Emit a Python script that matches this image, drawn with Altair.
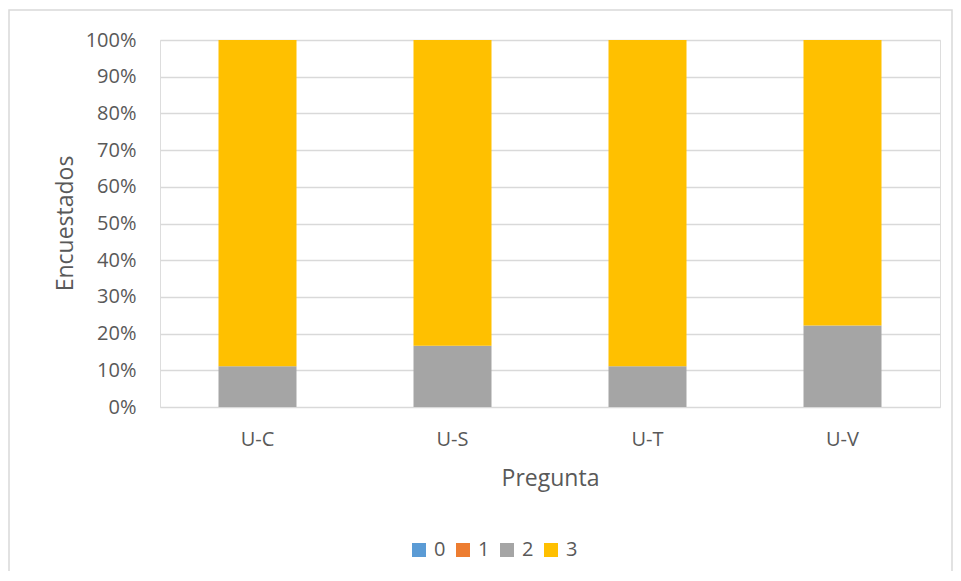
import altair as alt
import pandas as pd

categories = ["U-C", "U-S", "U-T", "U-V"]
series_names = ["0", "1", "2", "3"]
s0 = [0, 0, 0, 0]
s1 = [0, 0, 0, 0]
s2 = [11.1, 16.7, 11.1, 22.2]
s3 = [88.9, 83.3, 88.9, 77.8]
colors = ["#5b9bd5", "#ed7d31", "#a5a5a5", "#ffc000"]

rows = []
for si, (name, vals) in enumerate(zip(series_names, [s0, s1, s2, s3])):
    for c, v in zip(categories, vals):
        rows.append({"Pregunta": c, "Serie": name, "idx": si, "valor": v})
df = pd.DataFrame(rows)

FONT = "Open Sans"
TXT = "#595959"

bars = alt.Chart(df).mark_bar().encode(
    x=alt.X("Pregunta:N", sort=categories,
            scale=alt.Scale(paddingInner=0.6, paddingOuter=0.3),
            axis=alt.Axis(title="Pregunta", labelAngle=0, ticks=False, domain=False,
                          labelPadding=22, labelFontSize=20, labelColor=TXT, labelFont=FONT,
                          titleFontSize=23, titleColor=TXT, titleFont=FONT, titleFontWeight="normal",
                          titleBaseline="alphabetic", titleY=78, grid=False)),
    y=alt.Y("valor:Q", stack="normalize",
            scale=alt.Scale(domain=[0, 1]),
            axis=alt.Axis(title="Encuestados", format=".0%", values=[i / 10 for i in range(11)],
                          ticks=False, domain=False, labelPadding=24, labelFontSize=20,
                          labelColor=TXT, labelFont=FONT, gridColor="#d9d9d9", gridWidth=1.5,
                          titleFontSize=23, titleColor=TXT, titleFont=FONT, titleFontWeight="normal",
                          titleAngle=270, titleBaseline="alphabetic", titleAlign="center",
                          titleX=-88, titleY=183)),
    color=alt.Color("Serie:N", sort=series_names,
                    scale=alt.Scale(domain=series_names, range=colors),
                    legend=alt.Legend(title=None, orient="none", direction="horizontal",
                                      legendX=249, legendY=500, symbolType="square",
                                      symbolSize=196, symbolStrokeWidth=0, labelFontSize=20,
                                      labelColor=TXT, labelFont=FONT, columnPadding=7,
                                      labelOffset=5, padding=0)),
    order=alt.Order("idx:Q", sort="ascending"),
)

frame = alt.Chart(pd.DataFrame({"a": [0]})).mark_rect(
    fill=None, stroke="#d9d9d9", strokeWidth=1.5
).encode(
    x=alt.value(-151), x2=alt.value(792), y=alt.value(-30), y2=alt.value(532)
)

chart = alt.layer(frame, bars).properties(
    width=780, height=367,
    autosize=alt.AutoSizeParams(type="none"),
    padding={"left": 152, "top": 32, "right": 13, "bottom": 164},
).configure_view(stroke=None).configure(background="white")

chart.save("out.html", embed_options={"renderer": "svg", "actions": False})
